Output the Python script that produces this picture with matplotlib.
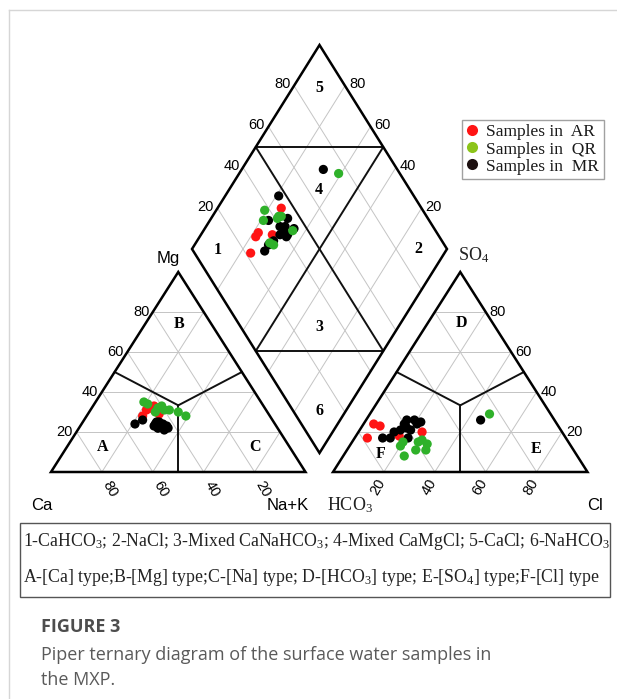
import matplotlib
matplotlib.use("Agg")
import matplotlib.pyplot as plt
from matplotlib.lines import Line2D
from matplotlib.patches import Polygon, Rectangle

plt.rcParams["mathtext.fontset"] = "custom"
plt.rcParams["mathtext.rm"] = "Liberation Serif"
plt.rcParams["mathtext.it"] = "Liberation Serif:italic"
plt.rcParams["mathtext.bf"] = "Liberation Serif:bold"
plt.rcParams["mathtext.default"] = "rm"

# ---- sample composition (milliequivalent %) ----
# AR samples
ar_ca = [44, 47, 50, 43, 43]
ar_mg = [31, 31, 28, 33, 29]
ar_na = [25, 22, 22, 24, 28]
ar_hco3 = [55, 70, 72, 78, 65]
ar_so4 = [20, 23, 24, 17, 18]
ar_cl = [25, 7, 4, 5, 17]

# QR samples
qr_ca = [33, 46, 45, 44, 40, 35, 40, 38, 42]
qr_mg = [28, 35, 34, 30, 33, 30, 31, 31, 32]
qr_na = [39, 19, 21, 26, 27, 35, 29, 31, 26]
qr_hco3 = [24, 62, 65, 59, 57, 56, 68, 67, 58]
qr_so4 = [29, 11, 15, 15, 16, 14, 8, 13, 11]
qr_cl = [47, 27, 20, 26, 27, 30, 24, 20, 31]

# MR samples
mr_ca = [45, 55, 51, 46, 47, 46, 44, 45, 47, 43, 43, 45, 47, 48]
mr_mg = [23, 24, 26, 24, 22, 25, 24, 21, 22, 23, 22, 25, 24, 23]
mr_na = [32, 21, 23, 30, 31, 29, 32, 34, 31, 34, 35, 30, 29, 29]
mr_hco3 = [29, 53, 63, 55, 58, 60, 60, 59, 62, 60, 55, 66, 69, 72]
mr_so4 = [26, 25, 21, 26, 26, 24, 23, 21, 17, 22, 24, 20, 17, 17]
mr_cl = [45, 22, 16, 19, 16, 16, 17, 20, 21, 18, 21, 14, 14, 11]

group_names = ["Samples in  AR", "Samples in  QR", "Samples in  MR"]
point_colors = ["#ff1414", "#2fb12a", "#000000"]
legend_colors = ["#ff1414", "#8cc41a", "#1c1010"]

tick_values = [20, 40, 60, 80]
class_text = [
    r"1-CaHCO$_3$; 2-NaCl; 3-Mixed CaNaHCO$_3$; 4-Mixed CaMgCl; 5-CaCl; 6-NaHCO$_3$",
    r"A-[Ca] type;B-[Mg] type;C-[Na] type; D-[HCO$_3$] type; E-[SO$_4$] type;F-[Cl] type",
]

# ---- canvas (pixel-like units, y downward) ----
fig = plt.figure(figsize=(6.17, 6.99), dpi=100)
ax = fig.add_axes([0, 0, 1, 1])
ax.set_xlim(0, 617)
ax.set_ylim(699, 0)
ax.axis("off")

W, H = 254.5, 200.0          # triangle base width / height
Y0 = 472.0                   # triangle base line
CX0, AX0 = 51.0, 333.0       # left corners of cation / anion triangles
DBX, DBY = 319.5, 453.0      # bottom vertex of the diamond
DHW, DHH = 127.5, 204.0      # diamond half width / half height


def cation_xy(ca, mg, na):
    return CX0 + W * (na + mg / 2) / 100.0, Y0 - H * mg / 100.0


def anion_xy(hco3, so4, cl):
    return AX0 + W * (cl + so4 / 2) / 100.0, Y0 - H * so4 / 100.0


def diamond_xy(camg, so4cl):
    return DBX + DHW * (so4cl - camg) / 100.0, DBY - DHH * (camg + so4cl) / 100.0


def seg(p, q, **kw):
    ax.plot([p[0], q[0]], [p[1], q[1]], solid_capstyle="round", **kw)


GRID = dict(color="#c4c4c4", lw=0.7, zorder=1)
DIV = dict(color="#111111", lw=1.4, zorder=2)

# ---- triangles ----
for f in (cation_xy, anion_xy):
    for k in tick_values:
        seg(f(100 - k, k, 0), f(0, k, 100 - k), **GRID)
        seg(f(100 - k, 0, k), f(0, 100 - k, k), **GRID)
        seg(f(k, 0, 100 - k), f(k, 100 - k, 0), **GRID)
    ctr = f(100 / 3, 100 / 3, 100 / 3)
    for p in (f(50, 50, 0), f(0, 50, 50), f(50, 0, 50)):
        seg(ctr, p, **DIV)
    ax.add_patch(Polygon([f(100, 0, 0), f(0, 0, 100), f(0, 100, 0)], closed=True,
                         fill=False, ec="black", lw=1.8, joinstyle="miter", zorder=3))

# ---- diamond ----
for k in tick_values:
    seg(diamond_xy(k, 0), diamond_xy(k, 100), **GRID)
    seg(diamond_xy(0, k), diamond_xy(100, k), **GRID)
seg(diamond_xy(50, 0), diamond_xy(50, 100), **DIV)
seg(diamond_xy(0, 50), diamond_xy(100, 50), **DIV)
seg(diamond_xy(100, 50), diamond_xy(50, 100), **DIV)
seg(diamond_xy(50, 0), diamond_xy(0, 50), **DIV)
ax.add_patch(Polygon([diamond_xy(0, 0), diamond_xy(100, 0), diamond_xy(100, 100), diamond_xy(0, 100)],
                     closed=True, fill=False, ec="black", lw=1.8, joinstyle="miter", zorder=3))

# ---- tick labels ----
TK = dict(fontsize=10.5, family="Liberation Sans", color="black")
for k in tick_values:
    x, y = cation_xy(100 - k, k, 0)
    ax.text(x - 3.5, y, str(k), ha="right", va="center", **TK)
    x, y = cation_xy(k, 0, 100 - k)
    ax.text(x + 8, y + 17, str(k), ha="center", va="center", rotation=-60, **TK)
    x, y = anion_xy(100 - k, 0, k)
    ax.text(x - 6, y + 15, str(k), ha="center", va="center", rotation=60, **TK)
    x, y = anion_xy(0, k, 100 - k)
    ax.text(x + 4, y, str(k), ha="left", va="center", **TK)
    x, y = diamond_xy(100, k)
    ax.text(x - 3.5, y - 1.5, str(k), ha="right", va="center", **TK)
    x, y = diamond_xy(k, 100)
    ax.text(x + 4, y - 1.5, str(k), ha="left", va="center", **TK)

# ---- corner labels ----
SANS = dict(fontsize=12, family="Liberation Sans", color="black", va="center")
SERIF = dict(fontsize=13, family="Liberation Serif", color="#222222", va="center")
ax.text(41.5, 506, "Ca", ha="center", **SANS)
ax.text(287.5, 506, "Na+K", ha="center", **SANS)
ax.text(168, 259, "Mg", ha="center", **SANS)
ax.text(595, 506, "Cl", ha="center", **SANS)
ax.text(327, 505, r"HCO$_3$", ha="left", **SERIF)
ax.text(458, 255, r"SO$_4$", ha="left", **SERIF)

# ---- field labels ----
FLD = dict(fontsize=11.5, family="Liberation Serif", fontweight="bold", ha="center", va="center")
for s, (x, y) in {"A": (103, 447), "B": (179, 324), "C": (255, 447),
                  "D": (461, 323), "E": (536, 449), "F": (381, 454),
                  "1": (218, 250), "2": (418, 249), "3": (319, 327),
                  "4": (319, 190), "5": (319, 88), "6": (319, 411)}.items():
    ax.text(x, y, s, **FLD)

# ---- samples ----
groups = [
    (ar_ca, ar_mg, ar_na, ar_hco3, ar_so4, ar_cl),
    (mr_ca, mr_mg, mr_na, mr_hco3, mr_so4, mr_cl),
    (qr_ca, qr_mg, qr_na, qr_hco3, qr_so4, qr_cl),
]
colors_in_order = [point_colors[0], point_colors[2], point_colors[1]]
for (ca, mg, na, hco3, so4, cl), col in zip(groups, colors_in_order):
    cx, cy = zip(*[cation_xy(a, b, c) for a, b, c in zip(ca, mg, na)])
    axx, ayy = zip(*[anion_xy(a, b, c) for a, b, c in zip(hco3, so4, cl)])
    dx, dy = zip(*[diamond_xy(a + b, s + c) for a, b, s, c in zip(ca, mg, so4, cl)])
    for xs, ys in ((cx, cy), (axx, ayy), (dx, dy)):
        ax.scatter(xs, ys, s=44, c=col, edgecolors="none", zorder=5)

# ---- legend ----
handles = [Line2D([], [], ls="none", marker="o", ms=8, mfc=c, mec="none") for c in legend_colors]
leg = ax.legend(handles, group_names, loc="upper left",
                bbox_to_anchor=(462 / 617, 1 - 120 / 699), bbox_transform=fig.transFigure,
                frameon=True, fancybox=False, edgecolor="#8a8a8a",
                prop={"family": "Liberation Serif", "size": 12.5},
                handlelength=0.7, handletextpad=0.45, borderpad=0.25,
                labelspacing=0.05, borderaxespad=0)
leg.get_frame().set_linewidth(1.0)
for t in leg.get_texts():
    t.set_color("#1a1a1a")

# ---- classification key box ----
ax.add_patch(Rectangle((20, 523), 590, 74, fill=False, ec="#555555", lw=1.0, zorder=3))
KEY = dict(fontsize=12.8, family="Liberation Serif", color="#222222", va="center", ha="left")
ax.text(23, 541, class_text[0], **KEY)
ax.text(23, 578, class_text[1], **KEY)

# ---- page frame and caption ----
ax.plot([9, 9], [10, 699], color="#d6d6d6", lw=1.0)
ax.plot([9, 617], [10, 10], color="#d6d6d6", lw=1.0)
ax.text(41, 627, "FIGURE 3", fontsize=13, family="Open Sans", fontweight="bold",
        color="#4d4d4d", ha="left", va="center")
ax.text(41, 655, "Piper ternary diagram of the surface water samples in",
        fontsize=13, family="Open Sans", color="#5a5a5a", ha="left", va="center")
ax.text(41, 680, "the MXP.", fontsize=13, family="Open Sans", color="#5a5a5a",
        ha="left", va="center")

fig.savefig("out.png", dpi=100)
